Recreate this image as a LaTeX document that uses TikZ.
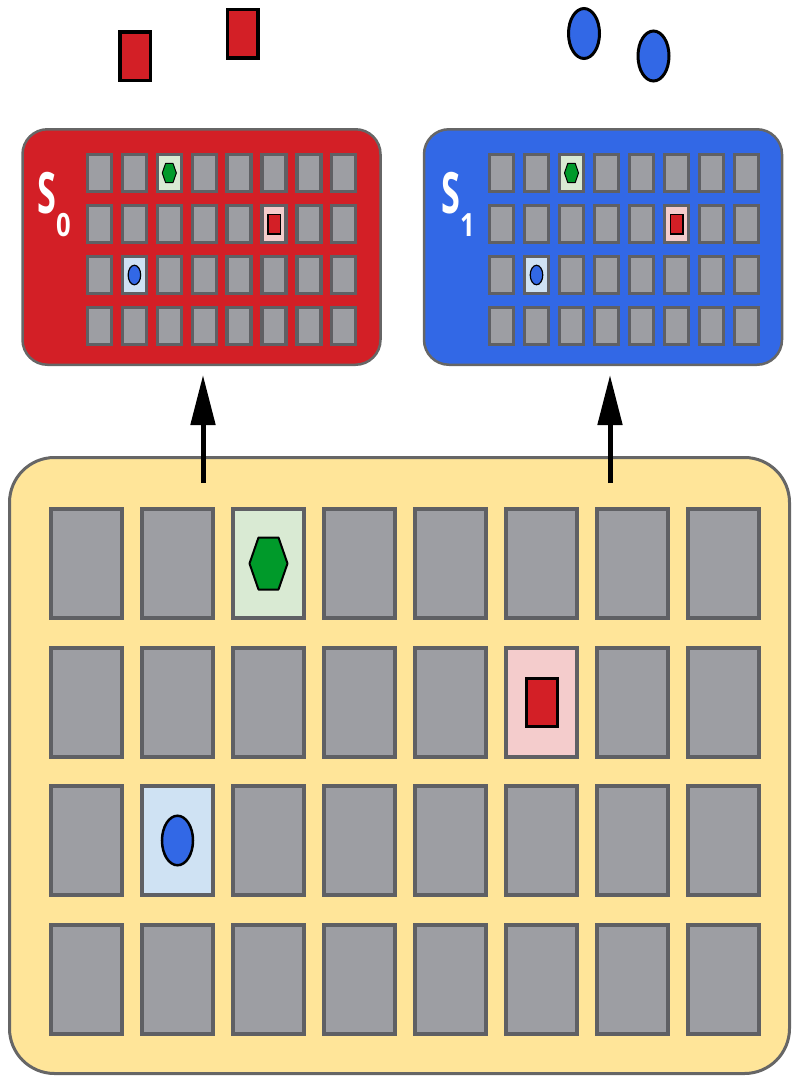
\documentclass[tikz,border=0pt]{standalone}
\usepackage{fontspec}
\setmainfont{Open Sans}
\usepackage{xcolor}
\usetikzlibrary{positioning,arrows.meta,shapes.geometric,calc}

\definecolor{boardyellow}{HTML}{FFE599}
\definecolor{panelred}{HTML}{D31F26}
\definecolor{panelblue}{HTML}{3268E6}
\definecolor{cellgray}{HTML}{9D9EA3}
\definecolor{celledge}{HTML}{5F6064}
\definecolor{frameedge}{HTML}{666666}
\definecolor{gemgreen}{HTML}{009A2A}
\definecolor{spotgreen}{HTML}{D9EAD3}
\definecolor{spotpink}{HTML}{F4CCCC}
\definecolor{spotblue}{HTML}{CFE2F3}

\begin{document}
\begin{tikzpicture}[x=1pt, y=-1pt, >={Triangle[length=50pt,width=24pt]},
  panel/.style={draw=frameedge, line width=2.5pt, rounded corners=25pt, inner sep=0, minimum width=358pt, minimum height=235.5pt},
  bigcell/.style={draw=celledge, fill=cellgray, line width=4pt, inner sep=0, minimum width=71pt, minimum height=109pt},
  smallcell/.style={draw=celledge, fill=cellgray, line width=3.3pt, inner sep=0, minimum width=24pt, minimum height=37pt},
  spot 1-3/.style={fill=spotgreen}, spot 2-6/.style={fill=spotpink}, spot 3-2/.style={fill=spotblue},
  token/.style={draw=black, fill=panelred, line width=3.5pt, inner sep=0, minimum width=30.5pt, minimum height=48.5pt},
  disc/.style={ellipse, draw=black, fill=panelblue, line width=3pt, inner sep=0, minimum width=31pt, minimum height=50pt},
  gem/.style={draw=black, fill=gemgreen, line width=2pt, line join=round},
  setname/.style={text=white, inner sep=0, anchor=base west, font=\fontsize{57}{57}\selectfont\bfseries},
  arr/.style={->, line width=5pt}]
\useasboundingbox (0,0) rectangle (792,1077);

% loose objects on top
\node[token] (r1) at (135,56) {};
\node[token] (r2) at (242.5,33.5) {};
\node[disc] (c1) at (584,33.5) {};
\node[disc] (c2) at (653.5,56) {};

% the two sets
\node[panel, fill=panelred] (s0) at (201.5,247) {};
\node[panel, fill=panelblue] (s1) at (603,247) {};
\node[setname] (s0name) at (37,213) {\scalebox{0.6}[1]{S}\raisebox{-23pt}{\scalebox{0.8}[1]{\fontsize{32}{32}\selectfont 0}}};
\node[setname] (s1name) at (441,213) {\scalebox{0.6}[1]{S}\raisebox{-23pt}{\scalebox{0.8}[1]{\fontsize{32}{32}\selectfont 1}}};

% board
\node[draw=frameedge, fill=boardyellow, line width=3pt, rounded corners=45pt, inner sep=0,
  minimum width=780pt, minimum height=616pt] (board) at (399.5,765.5) {};

\foreach \r in {1,...,4}
  \foreach \c in {1,...,8}{
    \node[bigcell, spot \r-\c/.try] (g-\r-\c) at ({86.5+91*(\c-1)}, {563.5+138.5*(\r-1)}) {};
    \node[smallcell, spot \r-\c/.try] (a-\r-\c) at ({99.5+34.9*(\c-1)}, {173+51*(\r-1)}) {};
    \node[smallcell, spot \r-\c/.try] (b-\r-\c) at ({501.5+35*(\c-1)}, {173+51*(\r-1)}) {};
  }

% objects in the cells
\draw[gem, shift={(g-1-3.center)}] (-19,0) -- (-10,-26) -- (10,-26) -- (19,0) -- (10,26) -- (-10,26) -- cycle;
\node[token, line width=3pt, minimum width=31pt, minimum height=48pt] (rbig) at (g-2-6) {};
\node[disc, line width=2.5pt, minimum height=49.5pt] (cbig) at (g-3-2) {};
\foreach \p in {a,b}{
  \draw[gem, line width=1pt, shift={(\p-1-3.center)}, scale=0.37] (-19,0) -- (-10,-26) -- (10,-26) -- (19,0) -- (10,26) -- (-10,26) -- cycle;
  \node[token, line width=1.5pt, minimum width=12.5pt, minimum height=19.5pt] (\p-red) at (\p-2-6) {};
  \node[disc, line width=1.2pt, minimum width=12.5pt, minimum height=19.5pt] (\p-blue) at (\p-3-2) {};
}

% arrows up to the sets
\coordinate (up0) at (203,483);
\coordinate (up1) at (610,483);
\draw[arr] (up0) -- ([yshift=-9pt]up0 |- s0.south);
\draw[arr] (up1) -- ([yshift=-9pt]up1 |- s1.south);
\end{tikzpicture}
\end{document}
